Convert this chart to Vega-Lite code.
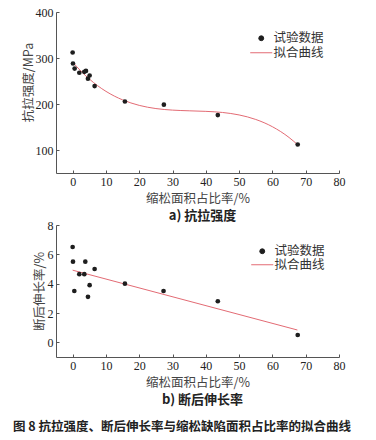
{
  "$schema": "https://vega.github.io/schema/vega-lite/v6.json",
  "padding": {"left": 13, "top": 6, "right": 5, "bottom": 4},
  "background": "white",
  "spacing": -4,
  "resolve": {"scale": {"color": "independent"}, "legend": {"color": "independent"}},
  "title": {
    "text": "图 8  抗拉强度、断后伸长率与缩松缺陷面积占比率的拟合曲线",
    "orient": "bottom",
    "anchor": "start",
    "font": "Noto Sans CJK SC",
    "fontSize": 12.5,
    "fontWeight": "bold",
    "color": "#222",
    "offset": 14,
    "dx": -9
  },
  "config": {
    "view": {"stroke": null},
    "font": "Liberation Serif, Noto Sans CJK SC",
    "axis": {
      "grid": false,
      "domainColor": "#555",
      "tickColor": "#555",
      "tickSize": -3,
      "labelPadding": 6,
      "labelOverlap": false,
      "labelFlush": false,
      "labelFont": "Liberation Serif",
      "labelFontSize": 12,
      "labelColor": "#222",
      "titleFont": "Noto Sans CJK SC, Liberation Serif",
      "titleFontSize": 12.5,
      "titleFontWeight": "normal",
      "titleColor": "#444",
      "titlePadding": 5
    },
    "legend": {
      "title": null,
      "orient": "none",
      "labelFont": "Noto Sans CJK SC",
      "labelFontSize": 12.5,
      "labelColor": "#333",
      "symbolSize": 24,
      "labelOffset": 6
    }
  },
  "vconcat": [
    {
      "width": 283,
      "height": 161,
      "title": {
        "text": "a) 抗拉强度",
        "orient": "bottom",
        "frame": "group",
        "font": "Noto Sans CJK SC",
        "fontSize": 13,
        "fontWeight": "bold",
        "color": "#222",
        "offset": 5,
        "dx": 5
      },
      "encoding": {
        "x": {"field": "x", "type": "quantitative", "scale": {"domain": [-5, 80], "nice": false, "zero": false},
              "axis": {"values": [0, 10, 20, 30, 40, 50, 60, 70, 80], "title": "缩松面积占比率/%"}},
        "y": {"field": "y", "type": "quantitative", "scale": {"domain": [50, 400], "nice": false, "zero": false},
              "axis": {"values": [100, 200, 300, 400], "title": "抗拉强度/MPa", "titleY": 70, "titlePadding": 0}},
        "color": {
          "field": "series", "type": "nominal",
          "scale": {"domain": ["试验数据", "拟合曲线"], "range": ["#1e1e1e", "#e36b74"]},
          "legend": {
            "legendX": 199, "legendY": 20, "rowPadding": 1.5,
            "encode": {"symbols": {"update": {
              "shape": {"signal": "datum.value === '试验数据' ? 'circle' : 'M-4.5,0H4.5'"},
              "fill": {"signal": "datum.value === '试验数据' ? '#1e1e1e' : 'transparent'"},
              "stroke": {"signal": "datum.value === '试验数据' ? '#1e1e1e' : '#e36b74'"},
              "strokeWidth": {"value": 1},
              "opacity": {"value": 1}
            }}}
          }
        }
      },
      "layer": [
        {
          "data": {"values": [
            {"x": 0, "y": 291, "series": "拟合曲线"},
            {"x": 2.5, "y": 271.4, "series": "拟合曲线"},
            {"x": 5, "y": 254.4, "series": "拟合曲线"},
            {"x": 7.5, "y": 239.8, "series": "拟合曲线"},
            {"x": 10, "y": 227.5, "series": "拟合曲线"},
            {"x": 12.5, "y": 217.3, "series": "拟合曲线"},
            {"x": 15, "y": 209.0, "series": "拟合曲线"},
            {"x": 17.5, "y": 202.3, "series": "拟合曲线"},
            {"x": 20, "y": 197.0, "series": "拟合曲线"},
            {"x": 25, "y": 190.1, "series": "拟合曲线"},
            {"x": 30, "y": 186.7, "series": "拟合曲线"},
            {"x": 35, "y": 185.2, "series": "拟合曲线"},
            {"x": 40, "y": 184.0, "series": "拟合曲线"},
            {"x": 45, "y": 181.6, "series": "拟合曲线"},
            {"x": 50, "y": 176.2, "series": "拟合曲线"},
            {"x": 55, "y": 166.4, "series": "拟合曲线"},
            {"x": 60, "y": 150.6, "series": "拟合曲线"},
            {"x": 65, "y": 127.2, "series": "拟合曲线"},
            {"x": 67.5, "y": 112.0, "series": "拟合曲线"}
          ]},
          "mark": {"type": "line", "strokeWidth": 1, "interpolate": "monotone"}
        },
        {
          "data": {"values": [
            {"x": 0, "y": 312, "series": "试验数据"},
            {"x": 0.1, "y": 288, "series": "试验数据"},
            {"x": 0.6, "y": 277, "series": "试验数据"},
            {"x": 2.0, "y": 268, "series": "试验数据"},
            {"x": 3.5, "y": 270, "series": "试验数据"},
            {"x": 4.0, "y": 272, "series": "试验数据"},
            {"x": 4.6, "y": 255, "series": "试验数据"},
            {"x": 5.1, "y": 262, "series": "试验数据"},
            {"x": 6.6, "y": 239, "series": "试验数据"},
            {"x": 15.7, "y": 205.5, "series": "试验数据"},
            {"x": 27.4, "y": 198.5, "series": "试验数据"},
            {"x": 43.6, "y": 176, "series": "试验数据"},
            {"x": 67.6, "y": 112, "series": "试验数据"}
          ]},
          "mark": {"type": "point", "filled": true, "size": 22, "opacity": 1}
        }
      ]
    },
    {
      "width": 283,
      "height": 132,
      "title": {
        "text": "b) 断后伸长率",
        "orient": "bottom",
        "frame": "group",
        "font": "Noto Sans CJK SC",
        "fontSize": 13,
        "fontWeight": "bold",
        "color": "#222",
        "offset": 5,
        "dx": 5
      },
      "encoding": {
        "x": {"field": "x", "type": "quantitative", "scale": {"domain": [-5, 80], "nice": false, "zero": false},
              "axis": {"values": [0, 10, 20, 30, 40, 50, 60, 70, 80], "title": "缩松面积占比率/%"}},
        "y": {"field": "y", "type": "quantitative", "scale": {"domain": [-1, 8], "nice": false, "zero": false},
              "axis": {"values": [0, 2, 4, 6, 8], "title": "断后伸长率/%", "titlePadding": 1}},
        "color": {
          "field": "series", "type": "nominal",
          "scale": {"domain": ["试验数据", "拟合曲线"], "range": ["#1e1e1e", "#e36b74"]},
          "legend": {
            "legendX": 200, "legendY": 20, "rowPadding": 0.5,
            "encode": {"symbols": {"update": {
              "shape": {"signal": "datum.value === '试验数据' ? 'circle' : 'M-4.5,0H4.5'"},
              "fill": {"signal": "datum.value === '试验数据' ? '#1e1e1e' : 'transparent'"},
              "stroke": {"signal": "datum.value === '试验数据' ? '#1e1e1e' : '#e36b74'"},
              "strokeWidth": {"value": 1},
              "opacity": {"value": 1}
            }}}
          }
        }
      },
      "layer": [
        {
          "data": {"values": [
            {"x": 0, "y": 4.92, "series": "拟合曲线"},
            {"x": 67.5, "y": 0.84, "series": "拟合曲线"}
          ]},
          "mark": {"type": "line", "strokeWidth": 1}
        },
        {
          "data": {"values": [
            {"x": 0, "y": 6.5, "series": "试验数据"},
            {"x": 0.1, "y": 5.5, "series": "试验数据"},
            {"x": 0.5, "y": 3.5, "series": "试验数据"},
            {"x": 2.0, "y": 4.65, "series": "试验数据"},
            {"x": 3.5, "y": 4.65, "series": "试验数据"},
            {"x": 3.8, "y": 5.5, "series": "试验数据"},
            {"x": 5.1, "y": 3.9, "series": "试验数据"},
            {"x": 4.6, "y": 3.1, "series": "试验数据"},
            {"x": 6.6, "y": 5.0, "series": "试验数据"},
            {"x": 15.7, "y": 4.0, "series": "试验数据"},
            {"x": 27.3, "y": 3.5, "series": "试验数据"},
            {"x": 43.6, "y": 2.8, "series": "试验数据"},
            {"x": 67.6, "y": 0.5, "series": "试验数据"}
          ]},
          "mark": {"type": "point", "filled": true, "size": 22, "opacity": 1}
        }
      ]
    }
  ]
}
